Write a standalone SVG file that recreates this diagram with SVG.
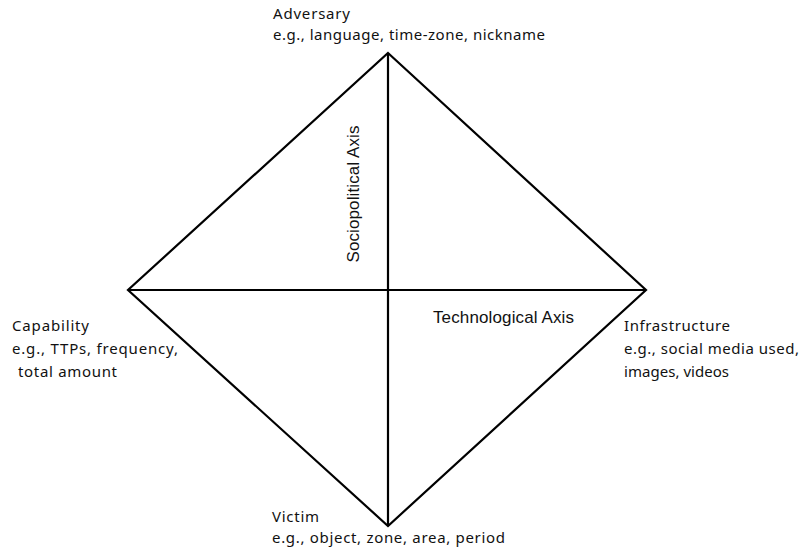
<svg xmlns="http://www.w3.org/2000/svg" width="800" height="547" viewBox="0 0 800 547">
<style>
.lbl{font-family:"Noto Sans","DejaVu Sans",sans-serif;font-size:15px;fill:#111}
.ax{font-family:"Liberation Sans",Arial,sans-serif;font-size:17px;fill:#111}
.ln{stroke:#000;stroke-width:2.2;fill:none}
</style>
<rect width="800" height="547" fill="#fff"/>
<g id="connectors">
<polygon class="ln" points="388,53 646,290 388,526 128,290"/>
<line class="ln" x1="388" y1="53" x2="388" y2="526"/>
<line class="ln" x1="128" y1="290" x2="646" y2="290"/>
</g>
<g id="adversary"><text class="lbl" x="273" y="19" textLength="77">Adversary</text><text class="lbl" x="273" y="40" textLength="272">e.g., language, time-zone, nickname</text></g>
<g id="capability"><text class="lbl" x="12" y="331" textLength="77">Capability</text><text class="lbl" x="12" y="354" textLength="166">e.g., TTPs, frequency,</text><text class="lbl" x="18" y="377" textLength="99">total amount</text></g>
<g id="infrastructure"><text class="lbl" x="624" y="331" textLength="106">Infrastructure</text><text class="lbl" x="624" y="354" textLength="175">e.g., social media used,</text><text class="lbl" x="624" y="377" textLength="105">images, videos</text></g>
<g id="victim"><text class="lbl" x="272" y="522" textLength="47">Victim</text><text class="lbl" x="272" y="543" textLength="233">e.g., object, zone, area, period</text></g>
<g id="sociopolitical"><text class="ax" transform="translate(359,194) rotate(-90)" text-anchor="middle" textLength="137">Sociopolitical Axis</text></g>
<g id="technological"><text class="ax" x="433" y="323" textLength="141">Technological Axis</text></g>
</svg>
